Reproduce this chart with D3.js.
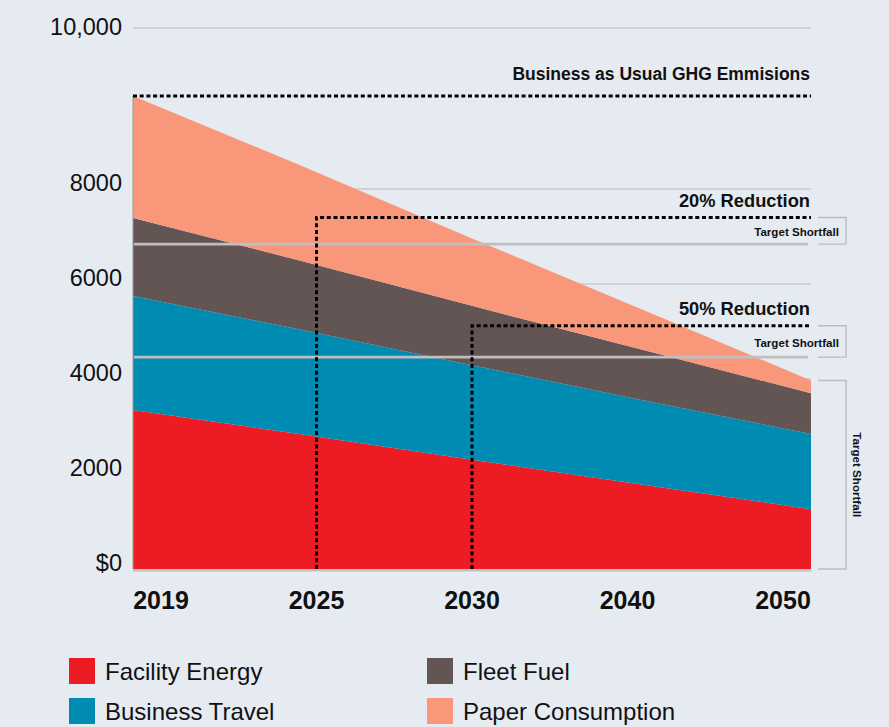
<!DOCTYPE html>
<html>
<head>
<meta charset="utf-8">
<script src="https://cdn.jsdelivr.net/npm/d3@7"></script>
<style>
  body { margin: 0; background: #e6ebf2; }
  svg { display: block; font-family: "Liberation Sans", Arial, Helvetica, sans-serif; }
</style>
</head>
<body>
<svg id="drawing_region"></svg>
<script>
// values
const years = ["2019", "2025", "2030", "2040", "2050"];
const facilityEnergy   = [3350, 2830, 2300, 1780, 1260];
const businessTravel   = [2400, 2200, 1990, 1780, 1580];
const fleetFuel        = [1640, 1450, 1250, 1060, 860];
const paperConsumption = [2570, 2000, 1420, 850, 270];
const seriesNames  = ["Facility Energy", "Business Travel", "Fleet Fuel", "Paper Consumption"];
const seriesColors = ["#ed1c24", "#008bb2", "#635553", "#f8977a"];

const yTicks = [0, 2000, 4000, 6000, 8000];
const yTopLabel = 10000;

const levelLabels = ["Business as Usual GHG Emmisions", "20% Reduction", "50% Reduction"];
const levelValues = [9960, 7400, 5120];
const levelStart  = ["2019", "2025", "2030"];
const shortfallValues = [6840, 4460];
const shortfallLabel = "Target Shortfall";

const width = 889, height = 727;
const plot = {left: 133, right: 811, top: 28, bottom: 569};

const table = years.map((y, i) => ({
    year: y,
    "Facility Energy": facilityEnergy[i],
    "Business Travel": businessTravel[i],
    "Fleet Fuel": fleetFuel[i],
    "Paper Consumption": paperConsumption[i]
}));

const svg = d3.select('#drawing_region')
    .attr('width', width)
    .attr('height', height);

svg.append('rect').attr('width', width).attr('height', height).attr('fill', '#e6ebf2');

const xArea = d3.scalePoint().domain(years).range([plot.left, plot.right]).padding(0);
const xTick = d3.scalePoint().domain(years).range([plot.left, plot.right]).padding(0.18);
const y = d3.scaleLinear().domain([0, 10000]).range([plot.bottom, 94]);

// gridlines
svg.append('g').selectAll('line')
    .data(yTicks.slice(1))
    .join('line')
    .attr('x1', plot.left).attr('x2', plot.right)
    .attr('y1', d => y(d)).attr('y2', d => y(d))
    .attr('stroke', '#c9ccd1').attr('stroke-width', 1.5);

svg.append('line')
    .attr('x1', plot.left).attr('x2', plot.right)
    .attr('y1', plot.top).attr('y2', plot.top)
    .attr('stroke', '#c9ccd1').attr('stroke-width', 1.5);

// stacked areas
const stack = d3.stack().keys(seriesNames);
const area = d3.area()
    .x(d => xArea(d.data.year))
    .y0(d => y(d[0]))
    .y1(d => y(d[1]));

svg.append('g').selectAll('path')
    .data(stack(table))
    .join('path')
    .attr('d', area)
    .attr('fill', (d, i) => seriesColors[i]);

// target shortfall lines
svg.append('g').selectAll('line')
    .data(shortfallValues)
    .join('line')
    .attr('x1', plot.left + 1).attr('x2', plot.right - 3)
    .attr('y1', d => y(d)).attr('y2', d => y(d))
    .attr('stroke', '#bfbfbf').attr('stroke-width', 2.7);

// axes lines
svg.append('line')
    .attr('x1', plot.left).attr('x2', plot.left)
    .attr('y1', y(levelValues[0])).attr('y2', plot.bottom)
    .attr('stroke', '#9a9a9a').attr('stroke-width', 1);

svg.append('line')
    .attr('x1', plot.left).attr('x2', plot.right)
    .attr('y1', plot.bottom + 1.3).attr('y2', plot.bottom + 1.3)
    .attr('stroke', '#bfc1c4').attr('stroke-width', 2.6);

// y axis
const yAxis = svg.append('g')
    .attr('transform', `translate(${plot.left},0)`)
    .call(d3.axisLeft(y).tickValues(yTicks).tickSize(0).tickPadding(11)
        .tickFormat(d => d === 0 ? '$0' : d3.format('d')(d)));
yAxis.select('.domain').remove();
yAxis.selectAll('text')
    .attr('font-size', 23.5)
    .attr('font-family', null)
    .attr('fill', '#111')
    .attr('dy', '0.06em');

svg.append('text')
    .attr('x', plot.left - 11).attr('y', plot.top)
    .attr('dy', '0.28em')
    .attr('text-anchor', 'end')
    .attr('font-size', 23.5)
    .attr('fill', '#111')
    .text(d3.format(',')(yTopLabel));

// x axis labels
svg.append('g').selectAll('text')
    .data(years)
    .join('text')
    .attr('x', d => xTick(d))
    .attr('y', 609)
    .attr('text-anchor', 'middle')
    .attr('font-size', 25)
    .attr('font-weight', 'bold')
    .attr('fill', '#111')
    .text(d => d);

// dotted level lines
const levelX = (d, i) => i === 0 ? xArea(d) : xTick(d);
const levels = levelValues.map((v, i) => ({value: v, label: levelLabels[i], start: levelStart[i], i: i}));

svg.append('g').selectAll('path')
    .data(levels)
    .join('path')
    .attr('d', d => {
        const x0 = levelX(d.start, d.i);
        const yv = y(d.value);
        return d.i === 0
            ? `M${x0},${yv}H${plot.right}`
            : `M${x0},${plot.bottom}V${yv}H${plot.right}`;
    })
    .attr('fill', 'none')
    .attr('stroke', '#000')
    .attr('stroke-width', 3)
    .attr('stroke-dasharray', '4,2.7');

svg.append('g').selectAll('text')
    .data(levels)
    .join('text')
    .attr('x', plot.right - 1)
    .attr('y', d => y(d.value) + (d.i === 0 ? -16 : -11))
    .attr('text-anchor', 'end')
    .attr('font-size', d => d.i === 0 ? 17.5 : 18.3)
    .attr('font-weight', 'bold')
    .attr('fill', '#111')
    .text(d => d.label);

// shortfall brackets
const total2050 = facilityEnergy[4] + businessTravel[4] + fleetFuel[4] + paperConsumption[4];
const brackets = [
    {top: levelValues[1], bottom: shortfallValues[0]},
    {top: levelValues[2], bottom: shortfallValues[1]},
    {top: total2050, bottom: 0}
];
const bx0 = 818, bx1 = 846;

svg.append('g').selectAll('path')
    .data(brackets)
    .join('path')
    .attr('d', d => `M${bx0},${y(d.top)}H${bx1}V${y(d.bottom)}H${bx0}`)
    .attr('fill', 'none')
    .attr('stroke', '#b8bcc2')
    .attr('stroke-width', 1.4);

svg.append('g').selectAll('text')
    .data(brackets.slice(0, 2))
    .join('text')
    .attr('x', 839)
    .attr('y', d => (y(d.top) + y(d.bottom)) / 2 + 1)
    .attr('dy', '0.35em')
    .attr('text-anchor', 'end')
    .attr('font-size', 11.6)
    .attr('font-weight', 'bold')
    .attr('fill', '#111')
    .text(shortfallLabel);

svg.append('text')
    .attr('transform', `translate(857,${(y(brackets[2].top) + y(brackets[2].bottom)) / 2}) rotate(90)`)
    .attr('dy', '0.35em')
    .attr('text-anchor', 'middle')
    .attr('font-size', 11.6)
    .attr('font-weight', 'bold')
    .attr('fill', '#111')
    .text(shortfallLabel);

// legend
const legend = svg.append('g').selectAll('g')
    .data(seriesNames)
    .join('g')
    .attr('transform', (d, i) => `translate(${69 + Math.floor(i / 2) * 358},${658 + (i % 2) * 40})`);

legend.append('rect')
    .attr('width', 26).attr('height', 26)
    .attr('fill', (d, i) => seriesColors[i]);

legend.append('text')
    .attr('x', 36).attr('y', 13)
    .attr('dy', '0.36em')
    .attr('font-size', 24)
    .attr('fill', '#111')
    .text(d => d);
</script>
</body>
</html>
